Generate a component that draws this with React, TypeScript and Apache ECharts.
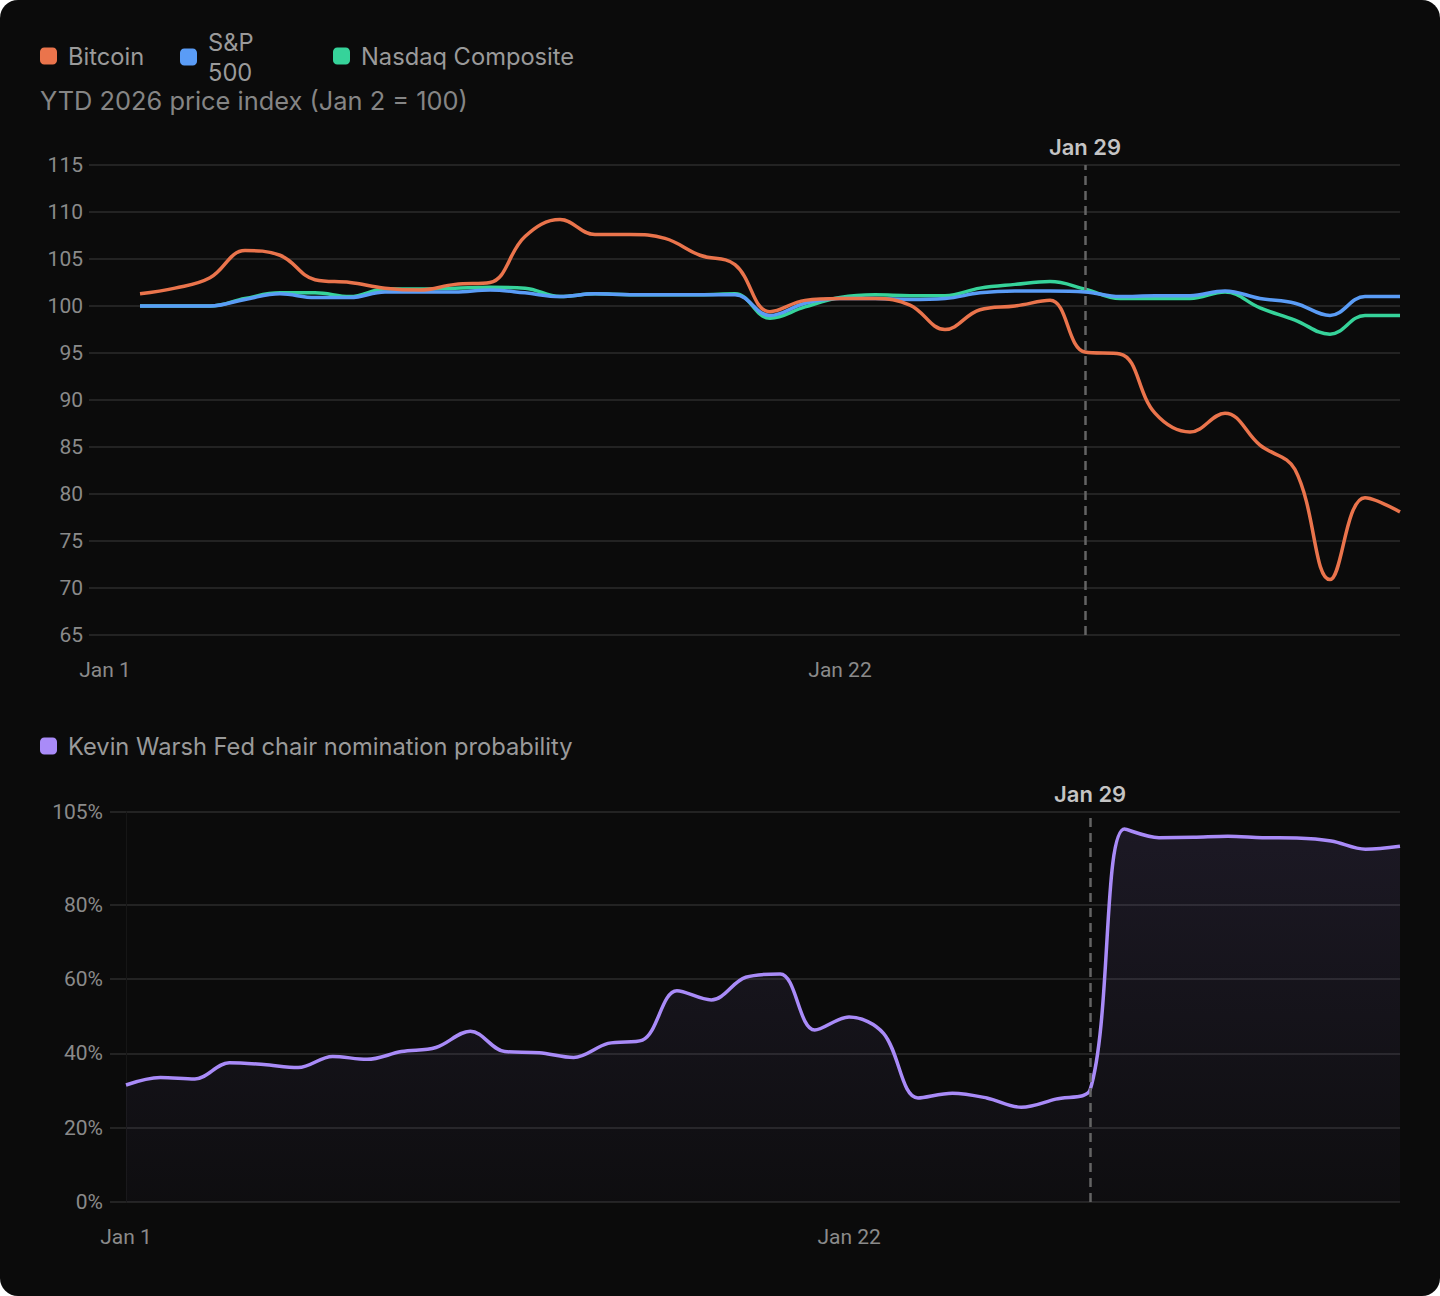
import React, { useEffect, useRef } from "react";
import * as echarts from "echarts";

// ---- data ----
const priceDates = [
  "2026-01-02", "2026-01-03", "2026-01-04", "2026-01-05", "2026-01-06", "2026-01-07", "2026-01-08",
  "2026-01-09", "2026-01-10", "2026-01-11", "2026-01-12", "2026-01-13", "2026-01-14", "2026-01-15",
  "2026-01-16", "2026-01-17", "2026-01-18", "2026-01-19", "2026-01-20", "2026-01-21", "2026-01-22",
  "2026-01-23", "2026-01-24", "2026-01-25", "2026-01-26", "2026-01-27", "2026-01-28", "2026-01-29",
  "2026-01-30", "2026-01-31", "2026-02-01", "2026-02-02", "2026-02-03", "2026-02-04", "2026-02-05",
  "2026-02-06", "2026-02-07",
];
const bitcoin = [
  101.3, 101.9, 103.0, 105.9, 105.4, 102.8, 102.5, 101.9, 101.7, 102.3, 102.5, 107.4, 109.2, 107.6,
  107.6, 107.2, 105.4, 104.4, 99.4, 100.6, 100.8, 100.8, 100.1, 97.5, 99.6, 100.0, 100.6, 95.1,
  94.9, 88.6, 86.6, 88.6, 85.2, 82.6, 70.9, 79.6, 78.1,
];
const sp500 = [
  100.0, 100.0, 100.0, 100.7, 101.3, 100.9, 100.9, 101.5, 101.5, 101.5, 101.7, 101.4, 101.0, 101.3,
  101.2, 101.2, 101.2, 101.2, 99.0, 100.3, 100.8, 100.8, 100.7, 100.8, 101.4, 101.6, 101.6, 101.5,
  101.0, 101.1, 101.1, 101.6, 100.8, 100.3, 99.0, 101.0, 101.0,
];
const nasdaq = [
  100.0, 100.0, 100.0, 100.8, 101.4, 101.4, 101.0, 101.8, 101.8, 101.9, 102.0, 101.9, 101.0, 101.3,
  101.2, 101.2, 101.2, 101.3, 98.7, 99.9, 100.9, 101.2, 101.1, 101.1, 101.9, 102.3, 102.6, 101.8,
  100.8, 100.8, 100.8, 101.5, 99.8, 98.5, 97.0, 99.0, 99.0,
];
const probDates = ["2026-01-01", ...priceDates];
const warshProb = [
  31.5, 33.5, 33.1, 37.5, 37.0, 36.2, 39.2, 38.4, 40.5, 41.6, 46.0, 40.5, 40.2, 38.9, 42.7, 43.6,
  56.9, 54.4, 60.5, 61.4, 46.3, 49.8, 45.4, 28.0, 29.3, 28.0, 25.5, 27.7, 30.2, 100.4, 98.1, 98.2,
  98.5, 98.1, 98.0, 97.2, 95.0, 95.8,
];
const probTicks = [0, 20, 40, 60, 80, 105];
const xTickDates = ["2026-01-01", "2026-01-22"];
const xTickLabels = ["Jan 1", "Jan 22"];
const axisStart = "2026-01-01";
const axisEnd = "2026-02-07";
const markerDate = "2026-01-29";
const markerLabel = "Jan 29";

const ts = (s: string) => {
  const [y, m, d] = s.split("-").map(Number);
  return Date.UTC(y, m - 1, d);
};
const X_TICKS = xTickDates.map(ts);

const FONT = 'Inter, "Noto Sans", sans-serif';
const NUM_FONT = 'Roboto, Inter, sans-serif';
const BG = "#0b0b0b";
const GRID = "#232323";
const AXIS_TEXT = "#8a8a8a";

const COLORS = {
  btc: "#ea744c",
  sp: "#5a9cf6",
  nq: "#36d39a",
  warsh: "#a98bf8",
};

const pair = (dates: string[], vals: number[]) => dates.map((d, i) => [ts(d), vals[i]]);

function xAxisCfg(gridIndex: number) {
  return {
    type: "value",
    gridIndex,
    min: ts(axisStart),
    max: ts(axisEnd),
    axisLine: { show: false },
    axisTick: { show: false },
    splitLine: { show: false },
    axisLabel: {
      customValues: X_TICKS,
      formatter: (v: number) => {
        const i = X_TICKS.indexOf(v);
        return i >= 0 ? xTickLabels[i] : "";
      },
      color: AXIS_TEXT,
      fontFamily: NUM_FONT,
      fontSize: 21,
      margin: 24,
    },
  };
}

function markLineCfg() {
  return {
    silent: true,
    symbol: "none",
    animation: false,
    lineStyle: { color: "#646464", type: [9, 6], width: 2.5 },
    label: {
      show: true,
      position: "end",
      formatter: markerLabel,
      color: "#c4c4c4",
      fontFamily: FONT,
      fontSize: 22,
      fontWeight: 600,
      distance: 7,
    },
    data: [{ xAxis: ts(markerDate) }],
  };
}

const legendText = {
  color: "#9a9a9a",
  fontFamily: FONT,
  fontSize: 23.7,
  lineHeight: 30,
  padding: [0, 0, 0, 6],
};

function legendCfg(name: string, left: number, top: number, label?: string) {
  return {
    left,
    top,
    padding: 0,
    orient: "horizontal",
    itemWidth: 17,
    itemHeight: 17,
    icon: "roundRect",
    selectedMode: false,
    data: [{ name, icon: "roundRect" }],
    formatter: () => label ?? name,
    textStyle: legendText,
  };
}

export default function App() {
  const ref = useRef<HTMLDivElement>(null);

  useEffect(() => {
    document.body.style.margin = "0";
    const chart = echarts.init(ref.current!, null, { renderer: "svg" });
    const option = {
      animation: false,
      backgroundColor: "transparent",
      title: {
        text: "YTD 2026 price index (Jan 2 = 100)",
        left: 40,
        top: 88,
        padding: 0,
        textStyle: { color: "#858585", fontFamily: FONT, fontSize: 25.4, fontWeight: "normal" },
      },
      legend: [
        legendCfg("Bitcoin", 40, 41),
        legendCfg("S&P 500", 180, 27, "S&P\n500"),
        legendCfg("Nasdaq Composite", 333, 41),
        legendCfg("Kevin Warsh Fed chair nomination probability", 40, 731),
      ],
      grid: [
        { left: 105, right: 40, top: 165, height: 470, containLabel: false },
        { left: 126, right: 40, top: 812, height: 390, containLabel: false },
      ],
      xAxis: [xAxisCfg(0), xAxisCfg(1)],
      yAxis: [
        {
          type: "value",
          gridIndex: 0,
          min: 65,
          max: 115,
          interval: 5,
          axisLine: { show: false },
          axisTick: { show: true, length: 16, lineStyle: { color: GRID, width: 2 } },
          splitLine: { show: true, lineStyle: { color: GRID, width: 2 } },
          axisLabel: { color: AXIS_TEXT, fontFamily: NUM_FONT, fontSize: 21, margin: 22 },
        },
        {
          type: "value",
          gridIndex: 1,
          min: 0,
          max: 105,
          axisLine: { show: true, lineStyle: { color: "#161616", width: 1 } },
          axisTick: {
            show: true,
            length: 16,
            customValues: probTicks,
            lineStyle: { color: GRID, width: 2 },
          },
          splitLine: { show: true, lineStyle: { color: GRID, width: 2 } },
          axisLabel: {
            customValues: probTicks,
            color: AXIS_TEXT,
            fontFamily: NUM_FONT,
            fontSize: 21,
            margin: 23,
            formatter: "{value}%",
          },
        },
      ],
      series: [
        {
          name: "Bitcoin",
          type: "line",
          xAxisIndex: 0,
          yAxisIndex: 0,
          data: pair(priceDates, bitcoin),
          smooth: 0.4,
          showSymbol: false,
          symbol: "none",
          z: 4,
          itemStyle: { color: COLORS.btc },
          lineStyle: { color: COLORS.btc, width: 3.5 },
          markLine: markLineCfg(),
        },
        {
          name: "S&P 500",
          type: "line",
          xAxisIndex: 0,
          yAxisIndex: 0,
          data: pair(priceDates, sp500),
          smooth: 0.4,
          showSymbol: false,
          symbol: "none",
          z: 3,
          itemStyle: { color: COLORS.sp },
          lineStyle: { color: COLORS.sp, width: 3.5 },
        },
        {
          name: "Nasdaq Composite",
          type: "line",
          xAxisIndex: 0,
          yAxisIndex: 0,
          data: pair(priceDates, nasdaq),
          smooth: 0.4,
          showSymbol: false,
          symbol: "none",
          z: 2,
          itemStyle: { color: COLORS.nq },
          lineStyle: { color: COLORS.nq, width: 3.5 },
        },
        {
          name: "Kevin Warsh Fed chair nomination probability",
          type: "line",
          xAxisIndex: 1,
          yAxisIndex: 1,
          data: pair(probDates, warshProb),
          smooth: 0.35,
          showSymbol: false,
          symbol: "none",
          itemStyle: { color: COLORS.warsh },
          lineStyle: { color: COLORS.warsh, width: 3.5 },
          areaStyle: {
            color: new echarts.graphic.LinearGradient(0, 0, 0, 1, [
              { offset: 0, color: "rgba(169,139,248,0.15)" },
              { offset: 1, color: "rgba(169,139,248,0.03)" },
            ]),
          },
          markLine: markLineCfg(),
        },
      ],
    };
    chart.setOption(option as any);
    return () => chart.dispose();
  }, []);

  return (
    <div
      style={{
        position: "fixed",
        left: 0,
        top: 0,
        width: 1440,
        height: 1296,
        background: BG,
        borderRadius: 18,
        overflow: "hidden",
      }}
    >
      <div ref={ref} style={{ width: 1440, height: 1296 }} />
    </div>
  );
}
